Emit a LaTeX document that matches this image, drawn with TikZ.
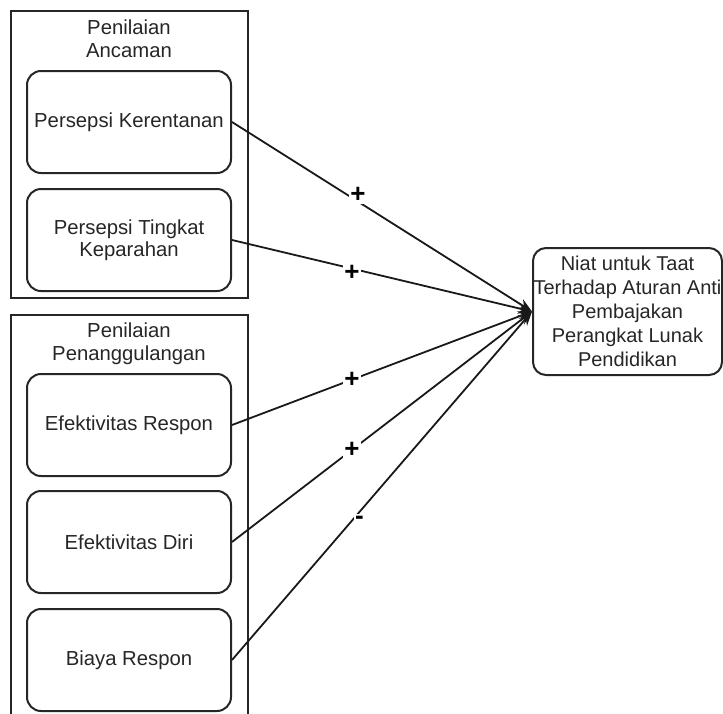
\documentclass[tikz,border=0pt]{standalone}
\usepackage{fontspec}
\setmainfont{Liberation Sans}
\usetikzlibrary{arrows.meta}
\definecolor{textgray}{HTML}{262626}
\begin{document}
\begin{tikzpicture}[x=1pt,y=-1pt,
  inbox/.style={draw=black!85, line width=2pt, rounded corners=14pt,
    minimum width=204pt, minimum height=102pt, inner sep=0pt, align=center,
    font=\fontsize{20.3}{22}\selectfont, text=textgray},
  target/.style={draw=black!85, line width=2pt, rounded corners=13pt,
    minimum width=189pt, minimum height=127pt, inner sep=0pt, align=center,
    font=\fontsize{20}{24}\selectfont, text=textgray},
  grp/.style={draw=black!85, line width=2pt, inner sep=0pt},
  grptitle/.style={align=center, font=\fontsize{20.3}{23}\selectfont, text=textgray, inner sep=0pt},
  conn/.style={draw=black!90, line width=1.8pt, -{Stealth[length=14pt,width=11pt]}},
  sign/.style={fill=white, inner sep=1.5pt, font=\bfseries\fontsize{26}{26}\selectfont, text=black}
]
\useasboundingbox (0,0) rectangle (723,713);

% group A
\node[grp, minimum width=237pt, minimum height=287pt] (grpA) at (129.5,154.5) {};
\node[grptitle] (titleA) at (129,39) {Penilaian\\Ancaman};

% group B (open at the bottom)
\coordinate (gBbl) at (11,716);
\coordinate (gBbr) at (248,716);
\draw[black!85, line width=2pt] (gBbl) |- (248,315) -- (gBbr);
\node[grptitle] (titleB) at (129,344) {Penilaian\\Penanggulangan};

% inner boxes
\node[inbox] (pk) at (129,122) {Persepsi Kerentanan};
\node[inbox] (ptk) at (129,240) {Persepsi Tingkat\\Keparahan};
\node[inbox] (er) at (129,425) {Efektivitas Respon};
\node[inbox] (ed) at (129,542) {Efektivitas Diri};
\node[inbox] (br) at (129,660) {Biaya Respon};

% target
\node[target] (niat) at (627.5,311.5) {Niat untuk Taat\\Terhadap Aturan Anti\\Pembajakan\\Perangkat Lunak\\Pendidikan};

% connectors
\draw[conn] (pk.east) -- node[sign, pos=0.42, yshift=7pt] {+} (niat.west);
\draw[conn] (ptk.east) -- node[sign, pos=0.40, yshift=-4pt] {+} (niat.west);
\draw[conn] (er.east) -- node[sign, pos=0.40] {+} (niat.west);
\draw[conn] (ed.east) -- node[sign, pos=0.40] {+} (niat.west);
\draw[conn] (br.east) -- node[sign, pos=0.425, yshift=-8pt] {-} (niat.west);
\end{tikzpicture}
\end{document}
